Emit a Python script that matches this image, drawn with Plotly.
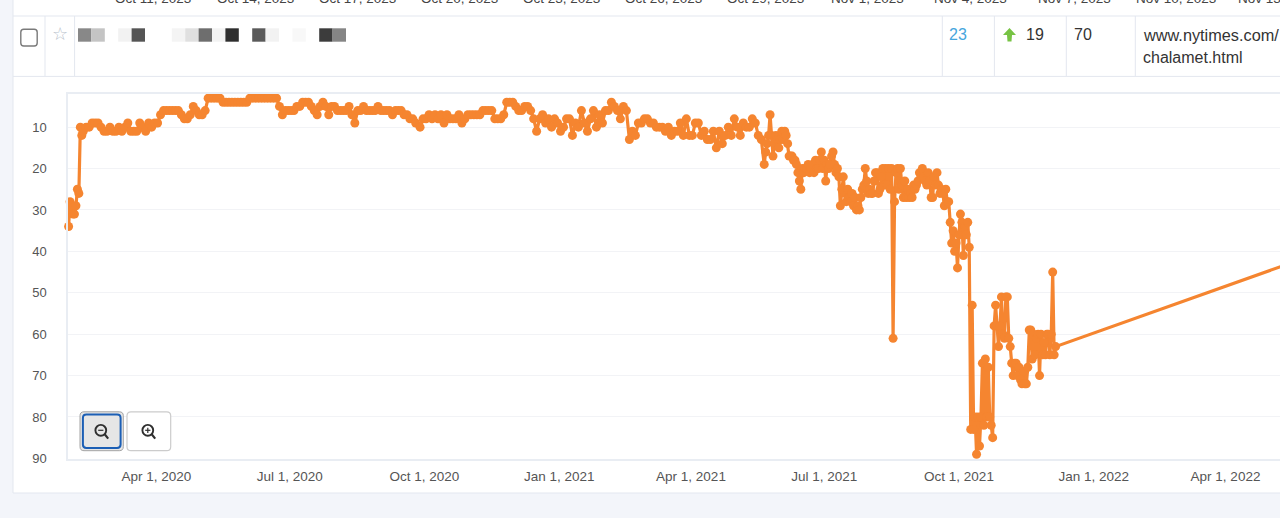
import pandas as pd
import plotly.graph_objects as go

W, H = 1280, 518

# ---- data (rank per date) ----
ranks_start = [34, 28, 29, 31, 31, 29, 25, 26, 10, 12, 11]
ranks_2020_spring = [10, 10, 9, 9, 9, 10, 11, 11, 10, 11, 11, 10, 11, 10, 9, 11, 11, 11, 9, 10, 11, 9, 10, 9, 9, 7, 6, 6,
                     6, 6, 6, 6, 7, 8, 8, 7, 5, 6, 7, 7, 6, 3, 3, 3, 3, 3, 4, 4, 4, 4, 4, 4, 4, 4, 4, 3, 3, 3, 3, 3, 3, 3, 3, 3, 3]
ranks_2020_summer = [5, 7, 6, 6, 6, 6, 5, 5, 4, 4, 4, 5, 6, 7, 5, 4, 5, 7, 5, 5, 6, 6, 6, 6, 5, 7, 9, 6, 6, 5, 6, 6, 6, 6, 5,
                     6, 6, 6, 6, 7, 6, 6, 6, 7, 7, 8, 8, 9]
ranks_2020_autumn = [10, 8, 8, 7, 8, 7, 8, 7, 9, 7, 8, 8, 8, 7, 9, 8, 7, 7, 7, 7, 7, 6, 6, 6, 6, 8, 8, 8, 7, 4, 4, 4, 5, 6, 6,
                     5, 5, 6, 8, 11, 8, 7, 9, 8, 10, 8, 9, 11, 10, 8]
ranks_2021_spring = [8, 12, 9, 10, 6, 9, 11, 8, 6, 10, 7, 9, 6, 6, 4, 5, 6, 8, 5, 6, 13, 11, 12, 9, 9, 8, 8, 9, 9, 10, 10, 10,
                     11, 10, 12, 11, 11, 9, 12, 8, 12, 12, 9, 9, 12, 11, 13, 13, 11, 15, 11, 14, 12, 10, 12, 8, 10, 12, 9, 10,
                     10, 8, 9, 12, 13]
ranks_2021_daily = [19, 16, 14, 12, 7, 12, 17, 14, 12, 13, 15, 13, 11, 13, 11, 12, 14, 17, 17, 17, 18, 18, 19, 21, 23, 25, 20,
                    21, 20, 20, 19, 21, 20, 19, 21, 18, 20, 20, 18, 16, 20, 18, 23, 19, 20, 19, 17, 16, 19, 21, 20, 22, 29,
                    25, 22, 26, 28, 25, 27, 28, 26, 29, 27, 30, 29, 30, 27, 25, 24, 20, 23, 26, 25, 26, 26, 23, 21, 21, 26,
                    25, 22, 20, 24, 20, 24, 20, 25, 20, 61, 28, 21, 20, 25, 20, 24, 27, 23, 27, 25, 27, 26, 27, 24, 25, 24,
                    23, 21, 22, 20, 22, 23, 24, 21, 23, 27, 27, 22, 24, 21, 24, 26, 25, 26, 29, 25, 28, 28, 33, 38, 35, 40,
                    38, 44, 36, 31, 33, 41, 34, 36, 33, 39, 83, 53, 83, 80, 89, 80, 87, 80, 67, 82, 66, 80, 68, 80, 82, 85,
                    58, 53, 58, 63, 58, 51, 60, 61, 51, 51, 61, 63, 67, 70, 67, 67, 70, 68, 71, 72, 69, 72, 72, 68, 59, 59,
                    66, 60, 65, 61, 60, 70, 60, 65, 62, 65, 60, 60, 65, 60, 45, 65, 63]
last_date = ["2022-06-15"]
last_rank = [39]

dates = (
    list(pd.date_range("2020-02-01", periods=len(ranks_start), freq="D"))
    + list(pd.date_range("2020-02-13", "2020-06-22", periods=len(ranks_2020_spring)))
    + list(pd.date_range("2020-06-24", "2020-09-25", periods=len(ranks_2020_summer)))
    + list(pd.date_range("2020-09-28", "2021-01-06", periods=len(ranks_2020_autumn)))
    + list(pd.date_range("2021-01-08", "2021-05-19", periods=len(ranks_2021_spring)))
    + list(pd.date_range("2021-05-21", periods=len(ranks_2021_daily), freq="D"))
    + list(pd.to_datetime(last_date))
)
ranks = ranks_start + ranks_2020_spring + ranks_2020_summer + ranks_2020_autumn + ranks_2021_spring + ranks_2021_daily + last_rank

x_tick_vals = ["2020-04-01", "2020-07-01", "2020-10-01", "2021-01-01", "2021-04-01", "2021-07-01", "2021-10-01", "2022-01-01", "2022-04-01"]
x_tick_text = ["Apr 1, 2020", "Jul 1, 2020", "Oct 1, 2020", "Jan 1, 2021", "Apr 1, 2021", "Jul 1, 2021", "Oct 1, 2021", "Jan 1, 2022", "Apr 1, 2022"]
y_tick_vals = [10, 20, 30, 40, 50, 60, 70, 80, 90]

header_labels = ["Oct 11, 2023", "Oct 14, 2023", "Oct 17, 2023", "Oct 20, 2023", "Oct 23, 2023", "Oct 26, 2023", "Oct 29, 2023",
                 "Nov 1, 2023", "Nov 4, 2023", "Nov 7, 2023", "Nov 10, 2023", "Nov 13, 2023"]
header_centres = [153, 255, 357, 459, 561, 663, 765, 867, 970, 1074, 1176, 1278]

block_slots = [0, 1, 3, 4, 7, 8, 9, 10, 11, 13, 14, 16, 18, 19]
block_greys = ["#888888", "#c4c4c4", "#f2f2f2", "#555555", "#f4f4f4", "#e0e0e0", "#6e6e6e", "#f3f3f3", "#2e2e2e", "#5a5a5a", "#f2f2f2", "#f8f8f8", "#3c3c3c", "#858585"]

ORANGE = "#f58530"
LINE = "#e3e7ef"
BG = "#f3f5fa"


def px(x):
    return x / W


def py(y):
    return 1 - y / H


def rect(x0, y0, x1, y1, fill="rgba(0,0,0,0)", line=None, lw=1, layer="below"):
    return dict(type="rect", xref="paper", yref="paper", x0=px(x0), x1=px(x1), y0=py(y0), y1=py(y1),
                fillcolor=fill, line=dict(color=line or "rgba(0,0,0,0)", width=lw if line else 0), layer=layer)


def seg(x0, y0, x1, y1, color=LINE, lw=1, layer="below"):
    return dict(type="line", xref="paper", yref="paper", x0=px(x0), x1=px(x1), y0=py(y0), y1=py(y1),
                line=dict(color=color, width=lw), layer=layer)


def rrect(x0, y0, x1, y1, r, fill, line, lw, layer="above"):
    pts = [("M", x0 + r, y0), ("L", x1 - r, y0), ("Q", x1, y0, x1, y0 + r), ("L", x1, y1 - r), ("Q", x1, y1, x1 - r, y1),
           ("L", x0 + r, y1), ("Q", x0, y1, x0, y1 - r), ("L", x0, y0 + r), ("Q", x0, y0, x0 + r, y0)]
    d = ""
    for p in pts:
        vals = p[1:]
        coords = " ".join(f"{px(vals[i]):.5f},{py(vals[i + 1]):.5f}" for i in range(0, len(vals), 2))
        d += f"{p[0]} {coords} "
    return dict(type="path", xref="paper", yref="paper", path=d + "Z", fillcolor=fill,
                line=dict(color=line, width=lw), layer=layer)


def circle(cx, cy, r, line, lw):
    return dict(type="circle", xref="paper", yref="paper", x0=px(cx - r), x1=px(cx + r), y0=py(cy + r), y1=py(cy - r),
                fillcolor="rgba(0,0,0,0)", line=dict(color=line, width=lw), layer="above")


shapes = [
    rect(13, -2, 1282, 493, fill="white", line=LINE),
    seg(13, 16, 1280, 16), seg(13, 76.4, 1280, 76.4),
]
shapes += [seg(v, 16, v, 76) for v in [45, 74.6, 942.3, 994.4, 1066.3, 1135.3]]
for slot, grey in zip(block_slots, block_greys):
    left = 78 + 13.4 * slot
    shapes.append(rect(left, 28.3, left + 13.4, 41.7, fill=grey))
shapes.append(rrect(20.8, 29.2, 37.2, 46, 3, "white", "#7a7a7a", 1.4))
arrow = [(1009.5, 28), (1016, 35), (1012, 35), (1011.5, 41.5), (1007.5, 41.5), (1007, 35), (1003, 35)]
shapes.append(dict(type="path", xref="paper", yref="paper", layer="above", fillcolor="#77c344", line=dict(width=0),
                   path="M " + " L ".join(f"{px(a):.5f},{py(b):.5f}" for a, b in arrow) + " Z"))
# zoom buttons
shapes += [
    rrect(80, 411.8, 123.3, 450.7, 4, "#e6e6e6", "#a3a3a3", 1),
    rrect(82.9, 414.6, 120.6, 448, 3.5, "#e6e6e6", "#1c5fb5", 2),
    rrect(127, 411.8, 170.7, 450.7, 4, "white", "#cccccc", 1.2),
]
for cx in [100.8, 147.8]:
    shapes.append(circle(cx, 430.3, 5.4, "#2f2f2f", 1.9))
    shapes.append(seg(cx + 3.9, 434.3, cx + 7.4, 438.6, "#2f2f2f", 2.2, "above"))
    shapes.append(seg(cx - 2.6, 430.3, cx + 2.6, 430.3, "#2f2f2f", 1.2, "above"))
shapes.append(seg(147.8, 427.7, 147.8, 432.9, "#2f2f2f", 1.2, "above"))


def note(x, y, text, color="#333333", size=16, anchor="left", family="Liberation Sans"):
    return dict(xref="paper", yref="paper", x=px(x), y=py(y), text=text, showarrow=False, xanchor=anchor, yanchor="middle",
                align=anchor, font=dict(size=size, color=color, family=family), borderpad=0, borderwidth=0)


annotations = [note(c, -2, t, "#444444", 13.5, "center") for c, t in zip(header_centres, header_labels)]
annotations += [
    note(60, 34, "☆", "#b7bfcc", 18, "center", "DejaVu Sans"),
    note(949.3, 34.5, "23", "#46a6dd"),
    note(1026, 34.5, "19"),
    note(1074, 34.5, "70"),
    note(1142.7, 34.5, "www.nytimes.com/", size=16.3),
    note(1142.7, 57.5, "chalamet.html"),
]

fig = go.Figure(go.Scatter(
    x=dates, y=ranks, mode="lines+markers",
    line=dict(color=ORANGE, width=3.2),
    marker=dict(color=ORANGE, size=9),
    cliponaxis=False,
    hoverinfo="skip",
))

fig.update_layout(
    width=W, height=H, autosize=False,
    margin=dict(l=0, r=0, t=0, b=0, pad=0),
    paper_bgcolor=BG, plot_bgcolor="white",
    showlegend=False,
    shapes=shapes, annotations=annotations,
    font=dict(family="Liberation Sans"),
    xaxis=dict(
        automargin=False,
        domain=[px(68), 1], range=["2020-01-31 14:00", "2022-05-08 05:00"],
        tickmode="array", tickvals=x_tick_vals, ticktext=x_tick_text,
        tickfont=dict(size=13.5, color="#555555"), ticks="", ticklabelstandoff=4,
        showgrid=False, zeroline=False, showline=True, linecolor="#e9edf3", linewidth=1.5, mirror=True,
    ),
    yaxis=dict(
        automargin=False,
        domain=[py(458.6), py(94)], range=[90.05, 2],
        tickmode="array", tickvals=y_tick_vals,
        tickfont=dict(size=13, color="#555555"), ticks="", ticklabelstandoff=17,
        showgrid=True, gridcolor="#f2f3f6", gridwidth=1, zeroline=False,
        showline=True, linecolor="#e9edf3", linewidth=1.5,
    ),
)

fig.write_html("out.html", config=dict(displayModeBar=False, responsive=False),
               default_width=f"{W}px", default_height=f"{H}px",
               post_script="document.body.style.margin='0';document.body.style.overflow='hidden';")
